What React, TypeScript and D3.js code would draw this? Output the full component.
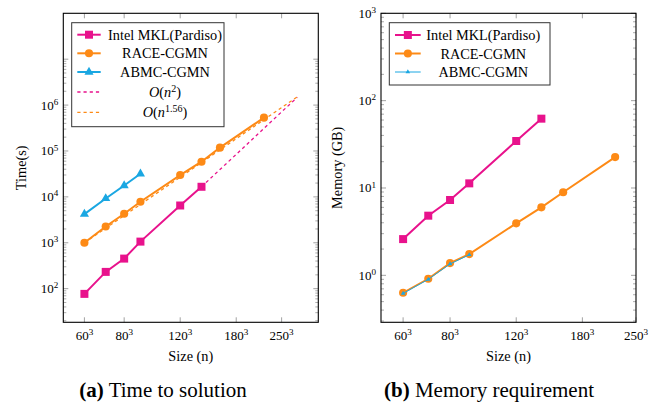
import React from "react";
import * as d3 from "d3";

const W = 659;
const H = 402;
const FONT = "'Liberation Serif', 'Times New Roman', serif";

const MAGENTA = "#e8128c";
const ORANGE = "#fd8a16";
const CYAN = "#1aa7e2";
const TICK = "#8a8a8a";

// problem sizes n (grid n^3)
const mklSizes = [60, 70, 80, 90, 120, 140];
const raceSizes = [60, 70, 80, 90, 120, 140, 160, 220];
const abmcSizes = [60, 70, 80, 90];

// time to solution (s)
const timeMkl = [77, 232, 452, 1060, 6490, 16600];
const timeRace = [1000, 2260, 4280, 7820, 29900, 58400, 118000, 533000];
const timeAbmc = [4210, 9230, 17700, 31900];

// asymptotic guide lines (n, time)
const fitN2Sizes = [140, 280];
const fitN2 = [16600, 1480000];
const fitN156Sizes = [60, 280];
const fitN156 = [1000, 1510000];

// memory (GB)
const memMkl = [2.6, 4.82, 7.29, 11.3, 34.5, 62.2];
const memRace = [0.632, 0.914, 1.38, 1.75, 3.94, 6.01, 8.93, 22.6];
const memAbmc = [0.62, 0.9, 1.35, 1.72];

const xTickSizes = [60, 80, 120, 180, 250];
const timeMajorExp = [2, 3, 4, 5, 6, 7];
const timeLabelExp = [2, 3, 4, 5, 6];
const memMajorExp = [0, 1, 2, 3];
const memLabelExp = [0, 1, 2, 3];

type Series = {
    sizes: number[];
    values: number[];
    color: string;
    symbol: d3.SymbolType;
    symSize: number;
    width: number;
    dashed?: boolean;
    label: string;
    exp?: string;
};

const zip = (a: number[], b: number[]) => a.map((v, i) => [v, b[i]] as [number, number]);

const Sup = ({base, exp, size}: {base: string; exp: string; size: number}) => (
    <>
        <tspan>{base}</tspan>
        <tspan dy={-size * 0.38} fontSize={size * 0.7}>{exp}</tspan>
    </>
);

const Panel = ({cfg}: {cfg: any}) => {
    const {left, right, top, bottom} = cfg;
    const x = d3.scaleLog().domain(cfg.xDomain).range([left, right]);
    const y = d3.scaleLog().domain(cfg.yDomain).range([bottom, top]);
    const line = d3.line<[number, number]>().x(d => x(d[0])).y(d => y(d[1]));

    const maxMajor = Math.max(...cfg.majorExp);
    const minor: number[] = [];
    for (let e = cfg.minorFrom; e < maxMajor; e++) {
        for (let m = 2; m <= 9; m++) {
            const v = m * Math.pow(10, e);
            if (v >= cfg.yDomain[0] && v <= cfg.yDomain[1]) minor.push(v);
        }
    }

    const series: Series[] = cfg.series;
    const lg = cfg.legend;

    return (
        <g fontFamily={FONT}>
            {/* y ticks */}
            {cfg.majorExp.map((e: number) => {
                const yy = y(Math.pow(10, e));
                return (
                    <g key={"M" + e} stroke={TICK} strokeWidth={0.8}>
                        <line x1={left} x2={left + 5} y1={yy} y2={yy}/>
                        <line x1={right} x2={right - 5} y1={yy} y2={yy}/>
                    </g>
                );
            })}
            {minor.map((v, i) => {
                const yy = y(v);
                return (
                    <g key={"m" + i} stroke={TICK} strokeWidth={0.7}>
                        <line x1={left} x2={left + 3} y1={yy} y2={yy}/>
                        <line x1={right} x2={right - 3} y1={yy} y2={yy}/>
                    </g>
                );
            })}
            {cfg.labelExp.map((e: number) => (
                <text key={"l" + e} x={left - 5} y={y(Math.pow(10, e)) + 4.5} textAnchor="end" fontSize={13}>
                    <Sup base="10" exp={String(e)} size={13}/>
                </text>
            ))}
            {/* x ticks */}
            {xTickSizes.map(n => (
                <g key={"x" + n}>
                    <line x1={x(n)} x2={x(n)} y1={bottom} y2={bottom - 5} stroke={TICK} strokeWidth={0.8}/>
                    <line x1={x(n)} x2={x(n)} y1={top} y2={top + 5} stroke={TICK} strokeWidth={0.8}/>
                    <text x={x(n)} y={339.5} textAnchor="middle" fontSize={13}>
                        <Sup base={String(n)} exp="3" size={13}/>
                    </text>
                </g>
            ))}

            {/* data */}
            {series.map((s, i) => (
                <g key={"s" + i}>
                    <path d={line(zip(s.sizes, s.values)) as string} fill="none" stroke={s.color}
                          strokeWidth={s.width} strokeDasharray={s.dashed ? "3.2 3" : undefined}/>
                    {!s.dashed && s.sizes.map((n, j) => (
                        <path key={j} transform={`translate(${x(n)},${y(s.values[j])})`}
                              d={d3.symbol(s.symbol, s.symSize)() as string} fill={s.color}/>
                    ))}
                </g>
            ))}

            {/* frame */}
            <rect x={left} y={top} width={right - left} height={bottom - top} fill="none" stroke="#000" strokeWidth={1.1}/>

            {/* legend */}
            <rect x={lg.x0} y={lg.y0} width={lg.x1 - lg.x0} height={lg.y1 - lg.y0} fill="#fff" stroke="#333" strokeWidth={1}/>
            {series.map((s, i) => {
                const yy = lg.rows[i];
                const cx = (lg.s0 + lg.s1) / 2;
                return (
                    <g key={"lg" + i}>
                        <line x1={lg.s0} x2={lg.s1} y1={yy} y2={yy} stroke={s.color} strokeWidth={s.width}
                              strokeDasharray={s.dashed ? "3.2 3" : undefined}/>
                        {!s.dashed && (
                            <path transform={`translate(${cx},${yy})`} d={d3.symbol(s.symbol, s.symSize)() as string} fill={s.color}/>
                        )}
                        <text x={lg.tx} y={yy + 5} textAnchor="middle" fontSize={14.3}>
                            {s.exp ? (
                                <>
                                    <tspan fontStyle="italic">O</tspan>
                                    <tspan>(</tspan>
                                    <tspan fontStyle="italic">n</tspan>
                                    <tspan dy={-5.5} fontSize={10}>{s.exp}</tspan>
                                    <tspan dy={5.5}>)</tspan>
                                </>
                            ) : s.label}
                        </text>
                    </g>
                );
            })}

            {/* axis labels */}
            <text x={(left + right) / 2} y={361} textAnchor="middle" fontSize={14.3}>Size (n)</text>
            <text transform={`translate(${cfg.yLabelX},${(top + bottom) / 2}) rotate(-90)`} textAnchor="middle"
                  dominantBaseline="central" fontSize={14.3}>{cfg.yLabel}</text>
            <text x={cfg.capX} y={397} textAnchor="middle" fontSize={21}>
                <tspan fontWeight="bold">{cfg.capTag}</tspan>
                <tspan> {cfg.caption}</tspan>
            </text>
        </g>
    );
};

const timeSeries: Series[] = [
    {sizes: mklSizes, values: timeMkl, color: MAGENTA, symbol: d3.symbolSquare, symSize: 64, width: 2, label: "Intel MKL(Pardiso)"},
    {sizes: raceSizes, values: timeRace, color: ORANGE, symbol: d3.symbolCircle, symSize: 52, width: 2, label: "RACE-CGMN"},
    {sizes: abmcSizes, values: timeAbmc, color: CYAN, symbol: d3.symbolTriangle, symSize: 36, width: 2, label: "ABMC-CGMN"},
    {sizes: fitN2Sizes, values: fitN2, color: MAGENTA, symbol: d3.symbolSquare, symSize: 0, width: 1.3, dashed: true, label: "", exp: "2"},
    {sizes: fitN156Sizes, values: fitN156, color: ORANGE, symbol: d3.symbolSquare, symSize: 0, width: 1.3, dashed: true, label: "", exp: "1.56"},
];

const memSeries: Series[] = [
    {sizes: mklSizes, values: memMkl, color: MAGENTA, symbol: d3.symbolSquare, symSize: 64, width: 2, label: "Intel MKL(Pardiso)"},
    {sizes: raceSizes, values: memRace, color: ORANGE, symbol: d3.symbolCircle, symSize: 52, width: 2, label: "RACE-CGMN"},
    {sizes: abmcSizes, values: memAbmc, color: CYAN, symbol: d3.symbolTriangle, symSize: 9, width: 1, label: "ABMC-CGMN"},
];

const leftCfg = {
    left: 63.3, right: 318.3, top: 13.3, bottom: 322.3,
    xDomain: [51.5, 326], yDomain: [18.5, 1e8],
    majorExp: timeMajorExp, labelExp: timeLabelExp, minorFrom: 1,
    series: timeSeries,
    legend: {x0: 71.7, x1: 224, y0: 22.7, y1: 126.7, s0: 77.3, s1: 100.7, tx: 165, rows: [34.7, 53.3, 72, 92, 112.3]},
    yLabel: "Time(s)", yLabelX: 21, capX: 163, capTag: "(a)", caption: "Time to solution",
};

const rightCfg = {
    left: 381, right: 636, top: 13.3, bottom: 322.3,
    xDomain: [52.4, 250], yDomain: [0.29, 1000],
    majorExp: memMajorExp, labelExp: memLabelExp, minorFrom: -1,
    series: memSeries,
    legend: {x0: 389.3, x1: 550, y0: 22.7, y1: 85, s0: 395, s1: 420.7, tx: 483.3, rows: [35, 53.5, 72]},
    yLabel: "Memory (GB)", yLabelX: 337, capX: 489, capTag: "(b)", caption: "Memory requirement",
};

export default function App() {
    return (
        <svg width={W} height={H} style={{position: "absolute", left: 0, top: 0, background: "#fff"}}>
            <Panel cfg={leftCfg}/>
            <Panel cfg={rightCfg}/>
        </svg>
    );
}
